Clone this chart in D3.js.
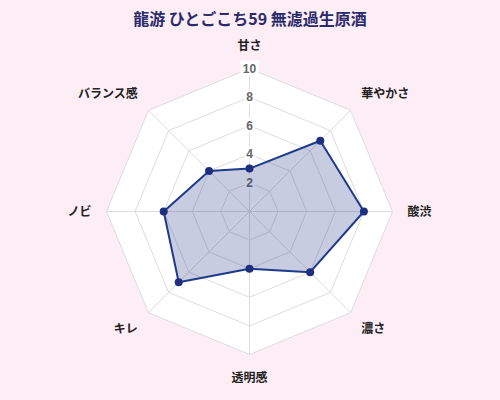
<!DOCTYPE html>
<html>
<head>
<meta charset="utf-8">
<script src="https://cdn.jsdelivr.net/npm/d3@7"></script>
<style>
  body { margin: 0; background: #fdeef6; }
  svg { display: block; font-family: "Noto Sans CJK JP", "Noto Sans", sans-serif; }
</style>
</head>
<body>
<svg width="500" height="400"></svg>
<script>
var title = "龍游 ひとごこち59 無濾過生原酒";
var axes = ["甘さ", "華やかさ", "酸渋", "濃さ", "透明感", "キレ", "ノビ", "バランス感"];
var values = [3, 7, 8, 6, 4, 7, 6, 4];
var ticks = [2, 4, 6, 8, 10];

var svg = d3.select("svg");
var cx = 249.5, cy = 211.5, R = 143;
var n = axes.length;

// radial scale
var r = d3.scaleLinear().domain([0, 10]).range([0, R]);
var angle = function(i){ return i * 2 * Math.PI / n; };
function pt(i, v){
    return [cx + r(v) * Math.sin(angle(i)), cy - r(v) * Math.cos(angle(i))];
}

svg.append("text")
    .attr("x", 250).attr("y", 25)
    .attr("text-anchor", "middle")
    .attr("font-size", 16).attr("font-weight", "bold")
    .attr("fill", "#2b2b6b")
    .text(title);

var g = svg.append("g");

// white background octagon
g.append("polygon")
    .attr("points", axes.map(function(d, i){ return pt(i, 10).join(","); }).join(" "))
    .attr("fill", "#ffffff");

// grid rings
ticks.forEach(function(t){
    g.append("polygon")
        .attr("points", axes.map(function(d, i){ return pt(i, t).join(","); }).join(" "))
        .attr("fill", "none")
        .attr("stroke", "#dddddd")
        .attr("stroke-width", 1);
});

// spokes
axes.forEach(function(d, i){
    var p = pt(i, 10);
    g.append("line")
        .attr("x1", cx).attr("y1", cy)
        .attr("x2", p[0]).attr("y2", p[1])
        .attr("stroke", "#dddddd")
        .attr("stroke-width", 1);
});

// tick labels (under the data, like chart.js)
ticks.forEach(function(t){
    var y = cy - r(t);
    var lbl = g.append("g");
    lbl.append("rect")
        .attr("x", cx - (t == 10 ? 9 : 5)).attr("y", y - 8)
        .attr("width", t == 10 ? 18 : 10).attr("height", 15)
        .attr("fill", "#ffffff");
    lbl.append("text")
        .attr("x", cx).attr("y", y + 4)
        .attr("text-anchor", "middle")
        .attr("font-size", 12).attr("font-weight", "bold")
        .attr("font-family", "'Liberation Sans', Arial, sans-serif")
        .attr("fill", "#666666")
        .text(t);
});

// data area
var line = d3.line().curve(d3.curveLinearClosed);
g.append("path")
    .attr("d", line(values.map(function(v, i){ return pt(i, v); })))
    .attr("fill", "rgba(30,50,130,0.25)")
    .attr("stroke", "#1e3a8a")
    .attr("stroke-width", 2)
    .attr("stroke-linejoin", "round");

g.selectAll("circle.pt")
    .data(values)
    .enter()
    .append("circle")
    .attr("class", "pt")
    .attr("cx", function(v, i){ return pt(i, v)[0]; })
    .attr("cy", function(v, i){ return pt(i, v)[1]; })
    .attr("r", 4)
    .attr("fill", "#1e2f80");

// axis labels
axes.forEach(function(d, i){
    var a = angle(i), s = Math.sin(a), c = Math.cos(a);
    var x = cx + (R + 15) * s;
    var y = cy - (R + 15) * c - 8 * c;
    var anchor = Math.abs(s) < 0.01 ? "middle" : (s > 0 ? "start" : "end");
    g.append("text")
        .attr("x", x).attr("y", y)
        .attr("dy", "0.35em")
        .attr("text-anchor", anchor)
        .attr("font-size", 12).attr("font-weight", "bold")
        .attr("fill", "#222222")
        .text(d);
});
</script>
</body>
</html>
